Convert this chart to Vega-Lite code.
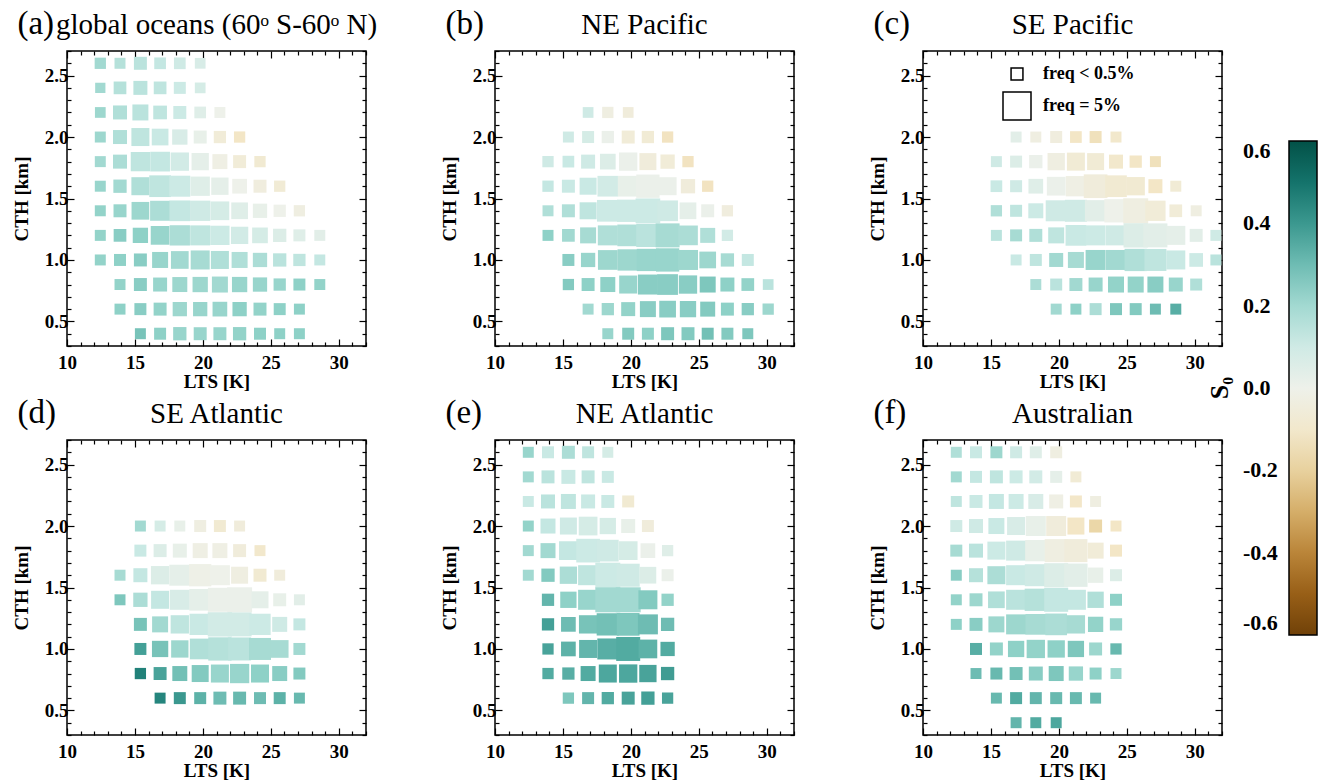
{
"$schema": "https://vega.github.io/schema/vega-lite/v6.json",
"background": "white",
"padding": {"left": 11, "top": 7, "right": 5, "bottom": 5},
"config": {
 "font": "Liberation Serif",
 "view": {"stroke": "black", "strokeWidth": 1.5},
 "header": {"labels": false, "title": null, "labelFontSize": 0, "labelPadding": 0},
 "headerFacet": {"labels": false, "title": null, "labelFontSize": 0, "labelPadding": 0},
 "axis": {"domain": false, "grid": false, "tickColor": "black", "tickWidth": 1.2, "labelColor": "black", "titleColor": "black", "labelFont": "Liberation Serif", "titleFont": "Liberation Serif", "labelFontWeight": "bold", "titleFontWeight": "bold", "labelFontSize": 19, "titleFontSize": 19, "labelOverlap": false, "labelFlush": false, "labelBound": false}
},
"data": {"values": [
{"p":"a","lab":"(a)","name":"global oceans (60ᵒ S-60ᵒ N)"},{"p":"b","lab":"(b)","name":"NE Pacific"},{"p":"c","lab":"(c)","name":"SE Pacific"},{"p":"d","lab":"(d)","name":"SE Atlantic"},{"p":"e","lab":"(e)","name":"NE Atlantic"},{"p":"f","lab":"(f)","name":"Australian"},
{"p":"a","x":12.45,"y":2.6,"f":0.2,"s":0.2},{"p":"a","x":13.9,"y":2.6,"f":0.15,"s":0.16},{"p":"a","x":15.4,"y":2.6,"f":0.5,"s":0.15},{"p":"a","x":16.85,"y":2.6,"f":0.27,"s":0.13},{"p":"a","x":18.3,"y":2.6,"f":0.27,"s":0.1},{"p":"a","x":19.8,"y":2.6,"f":0.11,"s":0.07},
{"p":"a","x":12.45,"y":2.4,"f":0.04,"s":0.2},{"p":"a","x":13.9,"y":2.4,"f":0.45,"s":0.16},{"p":"a","x":15.4,"y":2.4,"f":0.7,"s":0.15},{"p":"a","x":16.85,"y":2.4,"f":0.45,"s":0.14},{"p":"a","x":18.3,"y":2.4,"f":0.32,"s":0.11},{"p":"a","x":19.8,"y":2.4,"f":0.11,"s":0.08},
{"p":"a","x":12.45,"y":2.2,"f":0.11,"s":0.21},{"p":"a","x":13.9,"y":2.2,"f":0.7,"s":0.17},{"p":"a","x":15.4,"y":2.2,"f":1.14,"s":0.15},{"p":"a","x":16.85,"y":2.2,"f":0.64,"s":0.14},{"p":"a","x":18.3,"y":2.2,"f":0.5,"s":0.11},{"p":"a","x":19.8,"y":2.2,"f":0.27,"s":0.05},{"p":"a","x":21.25,"y":2.2,"f":0.15,"s":0.0},
{"p":"a","x":12.45,"y":2.0,"f":0.15,"s":0.21},{"p":"a","x":13.9,"y":2.0,"f":0.7,"s":0.17},{"p":"a","x":15.4,"y":2.0,"f":1.64,"s":0.14},{"p":"a","x":16.85,"y":2.0,"f":1.31,"s":0.12},{"p":"a","x":18.3,"y":2.0,"f":0.98,"s":0.07},{"p":"a","x":19.8,"y":2.0,"f":0.5,"s":0.02},{"p":"a","x":21.25,"y":2.0,"f":0.37,"s":-0.06},{"p":"a","x":22.7,"y":2.0,"f":0.2,"s":-0.12},
{"p":"a","x":12.45,"y":1.8,"f":0.15,"s":0.2},{"p":"a","x":13.9,"y":1.8,"f":0.7,"s":0.18},{"p":"a","x":15.4,"y":1.8,"f":1.99,"s":0.14},{"p":"a","x":16.85,"y":1.8,"f":2.11,"s":0.13},{"p":"a","x":18.3,"y":1.8,"f":1.72,"s":0.09},{"p":"a","x":19.8,"y":1.8,"f":1.46,"s":0.03},{"p":"a","x":21.25,"y":1.8,"f":0.91,"s":-0.02},{"p":"a","x":22.7,"y":1.8,"f":0.5,"s":-0.06},{"p":"a","x":24.2,"y":1.8,"f":0.2,"s":-0.08},
{"p":"a","x":12.45,"y":1.6,"f":0.15,"s":0.22},{"p":"a","x":13.9,"y":1.6,"f":0.56,"s":0.2},{"p":"a","x":15.4,"y":1.6,"f":1.64,"s":0.17},{"p":"a","x":16.85,"y":1.6,"f":2.71,"s":0.14},{"p":"a","x":18.3,"y":1.6,"f":2.49,"s":0.11},{"p":"a","x":19.8,"y":1.6,"f":1.99,"s":0.05},{"p":"a","x":21.25,"y":1.6,"f":1.46,"s":0.03},{"p":"a","x":22.7,"y":1.6,"f":0.85,"s":0.0},{"p":"a","x":24.2,"y":1.6,"f":0.5,"s":-0.04},{"p":"a","x":25.65,"y":1.6,"f":0.2,"s":-0.07},
{"p":"a","x":12.45,"y":1.4,"f":0.15,"s":0.23},{"p":"a","x":13.9,"y":1.4,"f":0.5,"s":0.22},{"p":"a","x":15.4,"y":1.4,"f":1.56,"s":0.21},{"p":"a","x":16.85,"y":1.4,"f":2.19,"s":0.18},{"p":"a","x":18.3,"y":1.4,"f":2.4,"s":0.13},{"p":"a","x":19.8,"y":1.4,"f":2.28,"s":0.1},{"p":"a","x":21.25,"y":1.4,"f":1.83,"s":0.08},{"p":"a","x":22.7,"y":1.4,"f":1.31,"s":0.05},{"p":"a","x":24.2,"y":1.4,"f":0.76,"s":0.02},{"p":"a","x":25.65,"y":1.4,"f":0.37,"s":0.0},{"p":"a","x":27.1,"y":1.4,"f":0.2,"s":-0.03},
{"p":"a","x":12.45,"y":1.2,"f":0.15,"s":0.23},{"p":"a","x":13.9,"y":1.2,"f":0.45,"s":0.25},{"p":"a","x":15.4,"y":1.2,"f":0.98,"s":0.24},{"p":"a","x":16.85,"y":1.2,"f":1.83,"s":0.22},{"p":"a","x":18.3,"y":1.2,"f":2.28,"s":0.18},{"p":"a","x":19.8,"y":1.2,"f":2.19,"s":0.14},{"p":"a","x":21.25,"y":1.2,"f":1.99,"s":0.11},{"p":"a","x":22.7,"y":1.2,"f":1.46,"s":0.09},{"p":"a","x":24.2,"y":1.2,"f":1.07,"s":0.08},{"p":"a","x":25.65,"y":1.2,"f":0.56,"s":0.06},{"p":"a","x":27.1,"y":1.2,"f":0.32,"s":0.05},{"p":"a","x":28.6,"y":1.2,"f":0.15,"s":0.04},
{"p":"a","x":12.45,"y":1.0,"f":0.15,"s":0.23},{"p":"a","x":13.9,"y":1.0,"f":0.32,"s":0.24},{"p":"a","x":15.4,"y":1.0,"f":0.5,"s":0.25},{"p":"a","x":16.85,"y":1.0,"f":1.14,"s":0.22},{"p":"a","x":18.3,"y":1.0,"f":1.56,"s":0.2},{"p":"a","x":19.8,"y":1.0,"f":1.91,"s":0.19},{"p":"a","x":21.25,"y":1.0,"f":1.64,"s":0.17},{"p":"a","x":22.7,"y":1.0,"f":1.14,"s":0.17},{"p":"a","x":24.2,"y":1.0,"f":0.76,"s":0.18},{"p":"a","x":25.65,"y":1.0,"f":0.56,"s":0.15},{"p":"a","x":27.1,"y":1.0,"f":0.37,"s":0.14},{"p":"a","x":28.6,"y":1.0,"f":0.15,"s":0.13},
{"p":"a","x":13.9,"y":0.8,"f":0.15,"s":0.23},{"p":"a","x":15.4,"y":0.8,"f":0.5,"s":0.25},{"p":"a","x":16.85,"y":0.8,"f":0.7,"s":0.22},{"p":"a","x":18.3,"y":0.8,"f":0.91,"s":0.21},{"p":"a","x":19.8,"y":0.8,"f":0.98,"s":0.21},{"p":"a","x":21.25,"y":0.8,"f":1.14,"s":0.2},{"p":"a","x":22.7,"y":0.8,"f":0.98,"s":0.22},{"p":"a","x":24.2,"y":0.8,"f":0.76,"s":0.22},{"p":"a","x":25.65,"y":0.8,"f":0.37,"s":0.22},{"p":"a","x":27.1,"y":0.8,"f":0.32,"s":0.24},{"p":"a","x":28.6,"y":0.8,"f":0.15,"s":0.23},
{"p":"a","x":13.9,"y":0.6,"f":0.15,"s":0.24},{"p":"a","x":15.4,"y":0.6,"f":0.32,"s":0.25},{"p":"a","x":16.85,"y":0.6,"f":0.5,"s":0.23},{"p":"a","x":18.3,"y":0.6,"f":0.76,"s":0.21},{"p":"a","x":19.8,"y":0.6,"f":0.76,"s":0.22},{"p":"a","x":21.25,"y":0.6,"f":0.85,"s":0.22},{"p":"a","x":22.7,"y":0.6,"f":0.76,"s":0.24},{"p":"a","x":24.2,"y":0.6,"f":0.5,"s":0.23},{"p":"a","x":25.65,"y":0.6,"f":0.32,"s":0.24},{"p":"a","x":27.1,"y":0.6,"f":0.15,"s":0.24},
{"p":"a","x":15.4,"y":0.4,"f":0.15,"s":0.28},{"p":"a","x":16.85,"y":0.4,"f":0.32,"s":0.24},{"p":"a","x":18.3,"y":0.4,"f":0.56,"s":0.22},{"p":"a","x":19.8,"y":0.4,"f":0.5,"s":0.22},{"p":"a","x":21.25,"y":0.4,"f":0.5,"s":0.22},{"p":"a","x":22.7,"y":0.4,"f":0.56,"s":0.23},{"p":"a","x":24.2,"y":0.4,"f":0.32,"s":0.24},{"p":"a","x":25.65,"y":0.4,"f":0.15,"s":0.24},{"p":"a","x":27.1,"y":0.4,"f":0.15,"s":0.24},
{"p":"b","x":16.85,"y":2.2,"f":0.11,"s":0.1},{"p":"b","x":18.3,"y":2.2,"f":0.2,"s":-0.03},{"p":"b","x":19.8,"y":2.2,"f":0.11,"s":-0.05},
{"p":"b","x":15.4,"y":2.0,"f":0.15,"s":0.1},{"p":"b","x":16.85,"y":2.0,"f":0.32,"s":0.08},{"p":"b","x":18.3,"y":2.0,"f":0.37,"s":0.01},{"p":"b","x":19.8,"y":2.0,"f":0.5,"s":-0.06},{"p":"b","x":21.25,"y":2.0,"f":0.37,"s":-0.07},{"p":"b","x":22.7,"y":2.0,"f":0.2,"s":-0.13},
{"p":"b","x":13.9,"y":1.8,"f":0.2,"s":0.1},{"p":"b","x":15.4,"y":1.8,"f":0.27,"s":0.12},{"p":"b","x":16.85,"y":1.8,"f":0.7,"s":0.1},{"p":"b","x":18.3,"y":1.8,"f":1.07,"s":0.06},{"p":"b","x":19.8,"y":1.8,"f":1.72,"s":0.01},{"p":"b","x":21.25,"y":1.8,"f":1.38,"s":-0.05},{"p":"b","x":22.7,"y":1.8,"f":0.76,"s":-0.06},{"p":"b","x":24.2,"y":1.8,"f":0.2,"s":-0.13},
{"p":"b","x":13.9,"y":1.6,"f":0.2,"s":0.13},{"p":"b","x":15.4,"y":1.6,"f":0.5,"s":0.12},{"p":"b","x":16.85,"y":1.6,"f":1.38,"s":0.12},{"p":"b","x":18.3,"y":1.6,"f":2.4,"s":0.09},{"p":"b","x":19.8,"y":1.6,"f":2.4,"s":0.02},{"p":"b","x":21.25,"y":1.6,"f":3.24,"s":0.01},{"p":"b","x":22.7,"y":1.6,"f":1.64,"s":0.01},{"p":"b","x":24.2,"y":1.6,"f":0.76,"s":-0.05},{"p":"b","x":25.65,"y":1.6,"f":0.2,"s":-0.13},
{"p":"b","x":13.9,"y":1.4,"f":0.15,"s":0.17},{"p":"b","x":15.4,"y":1.4,"f":0.5,"s":0.17},{"p":"b","x":16.85,"y":1.4,"f":1.38,"s":0.14},{"p":"b","x":18.3,"y":1.4,"f":2.71,"s":0.11},{"p":"b","x":19.8,"y":1.4,"f":2.9,"s":0.11},{"p":"b","x":21.25,"y":1.4,"f":3.73,"s":0.11},{"p":"b","x":22.7,"y":1.4,"f":2.4,"s":0.1},{"p":"b","x":24.2,"y":1.4,"f":1.31,"s":0.03},{"p":"b","x":25.65,"y":1.4,"f":0.5,"s":0.01},{"p":"b","x":27.1,"y":1.4,"f":0.2,"s":-0.04},
{"p":"b","x":13.9,"y":1.2,"f":0.15,"s":0.24},{"p":"b","x":15.4,"y":1.2,"f":0.45,"s":0.2},{"p":"b","x":16.85,"y":1.2,"f":1.14,"s":0.19},{"p":"b","x":18.3,"y":1.2,"f":2.19,"s":0.17},{"p":"b","x":19.8,"y":1.2,"f":2.71,"s":0.17},{"p":"b","x":21.25,"y":1.2,"f":3.24,"s":0.15},{"p":"b","x":22.7,"y":1.2,"f":3.48,"s":0.19},{"p":"b","x":24.2,"y":1.2,"f":2.11,"s":0.18},{"p":"b","x":25.65,"y":1.2,"f":0.91,"s":0.17},{"p":"b","x":27.1,"y":1.2,"f":0.2,"s":0.09},
{"p":"b","x":15.4,"y":1.0,"f":0.32,"s":0.25},{"p":"b","x":16.85,"y":1.0,"f":0.76,"s":0.22},{"p":"b","x":18.3,"y":1.0,"f":2.11,"s":0.21},{"p":"b","x":19.8,"y":1.0,"f":2.59,"s":0.21},{"p":"b","x":21.25,"y":1.0,"f":2.9,"s":0.22},{"p":"b","x":22.7,"y":1.0,"f":3.24,"s":0.22},{"p":"b","x":24.2,"y":1.0,"f":2.19,"s":0.21},{"p":"b","x":25.65,"y":1.0,"f":1.31,"s":0.21},{"p":"b","x":27.1,"y":1.0,"f":0.56,"s":0.19},{"p":"b","x":28.6,"y":1.0,"f":0.32,"s":0.13},
{"p":"b","x":15.4,"y":0.8,"f":0.2,"s":0.26},{"p":"b","x":16.85,"y":0.8,"f":0.5,"s":0.24},{"p":"b","x":18.3,"y":0.8,"f":0.91,"s":0.24},{"p":"b","x":19.8,"y":0.8,"f":1.64,"s":0.22},{"p":"b","x":21.25,"y":0.8,"f":2.19,"s":0.25},{"p":"b","x":22.7,"y":0.8,"f":2.4,"s":0.25},{"p":"b","x":24.2,"y":0.8,"f":1.72,"s":0.25},{"p":"b","x":25.65,"y":0.8,"f":1.14,"s":0.27},{"p":"b","x":27.1,"y":0.8,"f":0.7,"s":0.24},{"p":"b","x":28.6,"y":0.8,"f":0.45,"s":0.23},{"p":"b","x":30.1,"y":0.8,"f":0.11,"s":0.15},
{"p":"b","x":16.85,"y":0.6,"f":0.15,"s":0.2},{"p":"b","x":18.3,"y":0.6,"f":0.37,"s":0.21},{"p":"b","x":19.8,"y":0.6,"f":0.7,"s":0.23},{"p":"b","x":21.25,"y":0.6,"f":1.14,"s":0.25},{"p":"b","x":22.7,"y":0.6,"f":1.31,"s":0.25},{"p":"b","x":24.2,"y":0.6,"f":1.21,"s":0.25},{"p":"b","x":25.65,"y":0.6,"f":0.91,"s":0.26},{"p":"b","x":27.1,"y":0.6,"f":0.5,"s":0.24},{"p":"b","x":28.6,"y":0.6,"f":0.37,"s":0.25},{"p":"b","x":30.1,"y":0.6,"f":0.2,"s":0.21},
{"p":"b","x":18.3,"y":0.4,"f":0.15,"s":0.22},{"p":"b","x":19.8,"y":0.4,"f":0.32,"s":0.26},{"p":"b","x":21.25,"y":0.4,"f":0.32,"s":0.24},{"p":"b","x":22.7,"y":0.4,"f":0.5,"s":0.27},{"p":"b","x":24.2,"y":0.4,"f":0.5,"s":0.26},{"p":"b","x":25.65,"y":0.4,"f":0.32,"s":0.29},{"p":"b","x":27.1,"y":0.4,"f":0.32,"s":0.26},{"p":"b","x":28.6,"y":0.4,"f":0.15,"s":0.27},
{"p":"c","x":16.85,"y":2.0,"f":0.15,"s":0.04},{"p":"c","x":18.3,"y":2.0,"f":0.15,"s":-0.03},{"p":"c","x":19.8,"y":2.0,"f":0.32,"s":-0.04},{"p":"c","x":21.25,"y":2.0,"f":0.27,"s":-0.12},{"p":"c","x":22.7,"y":2.0,"f":0.32,"s":-0.14},{"p":"c","x":24.2,"y":2.0,"f":0.15,"s":-0.1},
{"p":"c","x":15.4,"y":1.8,"f":0.15,"s":0.1},{"p":"c","x":16.85,"y":1.8,"f":0.32,"s":0.06},{"p":"c","x":18.3,"y":1.8,"f":0.56,"s":0.01},{"p":"c","x":19.8,"y":1.8,"f":1.46,"s":-0.03},{"p":"c","x":21.25,"y":1.8,"f":1.64,"s":-0.07},{"p":"c","x":22.7,"y":1.8,"f":1.38,"s":-0.07},{"p":"c","x":24.2,"y":1.8,"f":0.7,"s":-0.1},{"p":"c","x":25.65,"y":1.8,"f":0.37,"s":-0.12},{"p":"c","x":27.1,"y":1.8,"f":0.15,"s":-0.14},
{"p":"c","x":15.4,"y":1.6,"f":0.27,"s":0.12},{"p":"c","x":16.85,"y":1.6,"f":0.32,"s":0.1},{"p":"c","x":18.3,"y":1.6,"f":0.85,"s":0.05},{"p":"c","x":19.8,"y":1.6,"f":1.83,"s":0.01},{"p":"c","x":21.25,"y":1.6,"f":2.28,"s":-0.02},{"p":"c","x":22.7,"y":1.6,"f":3.37,"s":-0.05},{"p":"c","x":24.2,"y":1.6,"f":2.71,"s":-0.08},{"p":"c","x":25.65,"y":1.6,"f":1.72,"s":-0.08},{"p":"c","x":27.1,"y":1.6,"f":0.7,"s":-0.12},{"p":"c","x":28.6,"y":1.6,"f":0.15,"s":-0.07},
{"p":"c","x":15.4,"y":1.4,"f":0.2,"s":0.17},{"p":"c","x":16.85,"y":1.4,"f":0.32,"s":0.14},{"p":"c","x":18.3,"y":1.4,"f":0.91,"s":0.11},{"p":"c","x":19.8,"y":1.4,"f":2.49,"s":0.1},{"p":"c","x":21.25,"y":1.4,"f":2.81,"s":0.1},{"p":"c","x":22.7,"y":1.4,"f":2.59,"s":0.04},{"p":"c","x":24.2,"y":1.4,"f":3.24,"s":0.0},{"p":"c","x":25.65,"y":1.4,"f":3.84,"s":-0.03},{"p":"c","x":27.1,"y":1.4,"f":2.28,"s":-0.06},{"p":"c","x":28.6,"y":1.4,"f":0.45,"s":-0.06},{"p":"c","x":30.1,"y":1.4,"f":0.15,"s":-0.03},
{"p":"c","x":15.4,"y":1.2,"f":0.15,"s":0.15},{"p":"c","x":16.85,"y":1.2,"f":0.32,"s":0.19},{"p":"c","x":18.3,"y":1.2,"f":0.5,"s":0.17},{"p":"c","x":19.8,"y":1.2,"f":1.14,"s":0.14},{"p":"c","x":21.25,"y":1.2,"f":2.4,"s":0.12},{"p":"c","x":22.7,"y":1.2,"f":2.19,"s":0.11},{"p":"c","x":24.2,"y":1.2,"f":2.19,"s":0.1},{"p":"c","x":25.65,"y":1.2,"f":3.59,"s":0.06},{"p":"c","x":27.1,"y":1.2,"f":3.48,"s":0.04},{"p":"c","x":28.6,"y":1.2,"f":1.91,"s":0.03},{"p":"c","x":30.1,"y":1.2,"f":0.5,"s":0.04},{"p":"c","x":31.55,"y":1.2,"f":0.15,"s":0.1},
{"p":"c","x":16.85,"y":1.0,"f":0.15,"s":0.12},{"p":"c","x":18.3,"y":1.0,"f":0.32,"s":0.14},{"p":"c","x":19.8,"y":1.0,"f":0.7,"s":0.2},{"p":"c","x":21.25,"y":1.0,"f":1.14,"s":0.19},{"p":"c","x":22.7,"y":1.0,"f":2.19,"s":0.22},{"p":"c","x":24.2,"y":1.0,"f":2.19,"s":0.2},{"p":"c","x":25.65,"y":1.0,"f":2.9,"s":0.17},{"p":"c","x":27.1,"y":1.0,"f":2.81,"s":0.14},{"p":"c","x":28.6,"y":1.0,"f":1.91,"s":0.12},{"p":"c","x":30.1,"y":1.0,"f":0.64,"s":0.11},{"p":"c","x":31.55,"y":1.0,"f":0.15,"s":0.15},
{"p":"c","x":18.3,"y":0.8,"f":0.15,"s":0.18},{"p":"c","x":19.8,"y":0.8,"f":0.32,"s":0.15},{"p":"c","x":21.25,"y":0.8,"f":0.5,"s":0.2},{"p":"c","x":22.7,"y":0.8,"f":0.7,"s":0.22},{"p":"c","x":24.2,"y":0.8,"f":1.14,"s":0.23},{"p":"c","x":25.65,"y":0.8,"f":1.14,"s":0.23},{"p":"c","x":27.1,"y":0.8,"f":1.14,"s":0.25},{"p":"c","x":28.6,"y":0.8,"f":0.7,"s":0.22},{"p":"c","x":30.1,"y":0.8,"f":0.32,"s":0.17},
{"p":"c","x":19.8,"y":0.6,"f":0.15,"s":0.2},{"p":"c","x":21.25,"y":0.6,"f":0.15,"s":0.24},{"p":"c","x":22.7,"y":0.6,"f":0.32,"s":0.18},{"p":"c","x":24.2,"y":0.6,"f":0.32,"s":0.27},{"p":"c","x":25.65,"y":0.6,"f":0.32,"s":0.26},{"p":"c","x":27.1,"y":0.6,"f":0.15,"s":0.3},{"p":"c","x":28.6,"y":0.6,"f":0.15,"s":0.34},
{"p":"d","x":15.4,"y":2.0,"f":0.15,"s":0.2},{"p":"d","x":16.85,"y":2.0,"f":0.15,"s":0.08},{"p":"d","x":18.3,"y":2.0,"f":0.15,"s":0.02},{"p":"d","x":19.8,"y":2.0,"f":0.32,"s":-0.03},{"p":"d","x":21.25,"y":2.0,"f":0.32,"s":-0.08},{"p":"d","x":22.7,"y":2.0,"f":0.15,"s":-0.05},
{"p":"d","x":15.4,"y":1.8,"f":0.32,"s":0.12},{"p":"d","x":16.85,"y":1.8,"f":0.5,"s":0.06},{"p":"d","x":18.3,"y":1.8,"f":0.7,"s":0.02},{"p":"d","x":19.8,"y":1.8,"f":0.91,"s":-0.02},{"p":"d","x":21.25,"y":1.8,"f":0.91,"s":-0.02},{"p":"d","x":22.7,"y":1.8,"f":0.5,"s":-0.05},{"p":"d","x":24.2,"y":1.8,"f":0.15,"s":-0.1},
{"p":"d","x":13.9,"y":1.6,"f":0.15,"s":0.19},{"p":"d","x":15.4,"y":1.6,"f":0.7,"s":0.13},{"p":"d","x":16.85,"y":1.6,"f":1.72,"s":0.06},{"p":"d","x":18.3,"y":1.6,"f":2.49,"s":0.03},{"p":"d","x":19.8,"y":1.6,"f":2.9,"s":-0.01},{"p":"d","x":21.25,"y":1.6,"f":2.19,"s":0.0},{"p":"d","x":22.7,"y":1.6,"f":1.38,"s":-0.03},{"p":"d","x":24.2,"y":1.6,"f":0.5,"s":-0.08},{"p":"d","x":25.65,"y":1.6,"f":0.15,"s":-0.05},
{"p":"d","x":13.9,"y":1.4,"f":0.15,"s":0.27},{"p":"d","x":15.4,"y":1.4,"f":0.76,"s":0.18},{"p":"d","x":16.85,"y":1.4,"f":1.64,"s":0.13},{"p":"d","x":18.3,"y":1.4,"f":2.19,"s":0.07},{"p":"d","x":19.8,"y":1.4,"f":2.71,"s":0.03},{"p":"d","x":21.25,"y":1.4,"f":3.48,"s":0.01},{"p":"d","x":22.7,"y":1.4,"f":3.84,"s":0.01},{"p":"d","x":24.2,"y":1.4,"f":1.38,"s":0.03},{"p":"d","x":25.65,"y":1.4,"f":0.5,"s":0.02},{"p":"d","x":27.1,"y":1.4,"f":0.15,"s":0.04},
{"p":"d","x":15.4,"y":1.2,"f":0.5,"s":0.28},{"p":"d","x":16.85,"y":1.2,"f":1.14,"s":0.2},{"p":"d","x":18.3,"y":1.2,"f":1.72,"s":0.14},{"p":"d","x":19.8,"y":1.2,"f":2.59,"s":0.12},{"p":"d","x":21.25,"y":1.2,"f":3.59,"s":0.09},{"p":"d","x":22.7,"y":1.2,"f":3.48,"s":0.09},{"p":"d","x":24.2,"y":1.2,"f":2.59,"s":0.11},{"p":"d","x":25.65,"y":1.2,"f":0.91,"s":0.1},{"p":"d","x":27.1,"y":1.2,"f":0.32,"s":0.13},
{"p":"d","x":15.4,"y":1.0,"f":0.32,"s":0.38},{"p":"d","x":16.85,"y":1.0,"f":1.21,"s":0.28},{"p":"d","x":18.3,"y":1.0,"f":1.46,"s":0.21},{"p":"d","x":19.8,"y":1.0,"f":2.4,"s":0.17},{"p":"d","x":21.25,"y":1.0,"f":3.24,"s":0.16},{"p":"d","x":22.7,"y":1.0,"f":3.14,"s":0.15},{"p":"d","x":24.2,"y":1.0,"f":2.81,"s":0.19},{"p":"d","x":25.65,"y":1.0,"f":1.56,"s":0.19},{"p":"d","x":27.1,"y":1.0,"f":0.32,"s":0.2},
{"p":"d","x":15.4,"y":0.8,"f":0.2,"s":0.46},{"p":"d","x":16.85,"y":0.8,"f":0.5,"s":0.37},{"p":"d","x":18.3,"y":0.8,"f":0.91,"s":0.29},{"p":"d","x":19.8,"y":0.8,"f":1.38,"s":0.26},{"p":"d","x":21.25,"y":0.8,"f":1.64,"s":0.22},{"p":"d","x":22.7,"y":0.8,"f":1.99,"s":0.22},{"p":"d","x":24.2,"y":0.8,"f":1.64,"s":0.24},{"p":"d","x":25.65,"y":0.8,"f":0.91,"s":0.25},{"p":"d","x":27.1,"y":0.8,"f":0.32,"s":0.26},
{"p":"d","x":16.85,"y":0.6,"f":0.15,"s":0.45},{"p":"d","x":18.3,"y":0.6,"f":0.32,"s":0.4},{"p":"d","x":19.8,"y":0.6,"f":0.32,"s":0.33},{"p":"d","x":21.25,"y":0.6,"f":0.5,"s":0.3},{"p":"d","x":22.7,"y":0.6,"f":0.5,"s":0.31},{"p":"d","x":24.2,"y":0.6,"f":0.32,"s":0.3},{"p":"d","x":25.65,"y":0.6,"f":0.32,"s":0.33},{"p":"d","x":27.1,"y":0.6,"f":0.15,"s":0.31},
{"p":"e","x":12.45,"y":2.6,"f":0.15,"s":0.22},{"p":"e","x":13.9,"y":2.6,"f":0.32,"s":0.12},{"p":"e","x":15.4,"y":2.6,"f":0.5,"s":0.18},{"p":"e","x":16.85,"y":2.6,"f":0.32,"s":0.14},{"p":"e","x":18.3,"y":2.6,"f":0.15,"s":0.08},
{"p":"e","x":12.45,"y":2.4,"f":0.15,"s":0.2},{"p":"e","x":13.9,"y":2.4,"f":0.5,"s":0.15},{"p":"e","x":15.4,"y":2.4,"f":0.7,"s":0.12},{"p":"e","x":16.85,"y":2.4,"f":0.5,"s":0.14},{"p":"e","x":18.3,"y":2.4,"f":0.32,"s":0.12},
{"p":"e","x":12.45,"y":2.2,"f":0.15,"s":0.12},{"p":"e","x":13.9,"y":2.2,"f":0.7,"s":0.15},{"p":"e","x":15.4,"y":2.2,"f":0.91,"s":0.14},{"p":"e","x":16.85,"y":2.2,"f":0.7,"s":0.12},{"p":"e","x":18.3,"y":2.2,"f":0.5,"s":0.12},{"p":"e","x":19.8,"y":2.2,"f":0.32,"s":-0.08},
{"p":"e","x":12.45,"y":2.0,"f":0.15,"s":0.23},{"p":"e","x":13.9,"y":2.0,"f":0.91,"s":0.13},{"p":"e","x":15.4,"y":2.0,"f":1.38,"s":0.1},{"p":"e","x":16.85,"y":2.0,"f":1.83,"s":0.08},{"p":"e","x":18.3,"y":2.0,"f":1.21,"s":0.08},{"p":"e","x":19.8,"y":2.0,"f":0.7,"s":0.02},{"p":"e","x":21.25,"y":2.0,"f":0.32,"s":-0.05},
{"p":"e","x":12.45,"y":1.8,"f":0.15,"s":0.2},{"p":"e","x":13.9,"y":1.8,"f":0.91,"s":0.2},{"p":"e","x":15.4,"y":1.8,"f":1.83,"s":0.13},{"p":"e","x":16.85,"y":1.8,"f":3.37,"s":0.11},{"p":"e","x":18.3,"y":1.8,"f":2.71,"s":0.1},{"p":"e","x":19.8,"y":1.8,"f":1.83,"s":0.08},{"p":"e","x":21.25,"y":1.8,"f":0.85,"s":0.01},{"p":"e","x":22.7,"y":1.8,"f":0.2,"s":0.05},
{"p":"e","x":12.45,"y":1.6,"f":0.15,"s":0.2},{"p":"e","x":13.9,"y":1.6,"f":0.56,"s":0.26},{"p":"e","x":15.4,"y":1.6,"f":1.46,"s":0.18},{"p":"e","x":16.85,"y":1.6,"f":2.19,"s":0.14},{"p":"e","x":18.3,"y":1.6,"f":3.84,"s":0.11},{"p":"e","x":19.8,"y":1.6,"f":3.14,"s":0.1},{"p":"e","x":21.25,"y":1.6,"f":1.31,"s":0.06},{"p":"e","x":22.7,"y":1.6,"f":0.32,"s":0.01},
{"p":"e","x":13.9,"y":1.4,"f":0.37,"s":0.32},{"p":"e","x":15.4,"y":1.4,"f":1.21,"s":0.24},{"p":"e","x":16.85,"y":1.4,"f":2.19,"s":0.22},{"p":"e","x":18.3,"y":1.4,"f":3.84,"s":0.2},{"p":"e","x":19.8,"y":1.4,"f":3.84,"s":0.2},{"p":"e","x":21.25,"y":1.4,"f":1.91,"s":0.26},{"p":"e","x":22.7,"y":1.4,"f":0.37,"s":0.23},
{"p":"e","x":13.9,"y":1.2,"f":0.37,"s":0.38},{"p":"e","x":15.4,"y":1.2,"f":0.85,"s":0.3},{"p":"e","x":16.85,"y":1.2,"f":1.72,"s":0.28},{"p":"e","x":18.3,"y":1.2,"f":2.9,"s":0.29},{"p":"e","x":19.8,"y":1.2,"f":3.04,"s":0.27},{"p":"e","x":21.25,"y":1.2,"f":2.19,"s":0.3},{"p":"e","x":22.7,"y":1.2,"f":0.56,"s":0.3},
{"p":"e","x":13.9,"y":1.0,"f":0.2,"s":0.37},{"p":"e","x":15.4,"y":1.0,"f":0.85,"s":0.33},{"p":"e","x":16.85,"y":1.0,"f":1.64,"s":0.32},{"p":"e","x":18.3,"y":1.0,"f":2.49,"s":0.34},{"p":"e","x":19.8,"y":1.0,"f":3.48,"s":0.35},{"p":"e","x":21.25,"y":1.0,"f":1.83,"s":0.33},{"p":"e","x":22.7,"y":1.0,"f":0.76,"s":0.35},
{"p":"e","x":13.9,"y":0.8,"f":0.2,"s":0.35},{"p":"e","x":15.4,"y":0.8,"f":0.37,"s":0.34},{"p":"e","x":16.85,"y":0.8,"f":0.91,"s":0.35},{"p":"e","x":18.3,"y":0.8,"f":1.64,"s":0.36},{"p":"e","x":19.8,"y":0.8,"f":1.72,"s":0.36},{"p":"e","x":21.25,"y":0.8,"f":1.46,"s":0.37},{"p":"e","x":22.7,"y":0.8,"f":0.56,"s":0.39},
{"p":"e","x":15.4,"y":0.6,"f":0.2,"s":0.27},{"p":"e","x":16.85,"y":0.6,"f":0.32,"s":0.32},{"p":"e","x":18.3,"y":0.6,"f":0.37,"s":0.35},{"p":"e","x":19.8,"y":0.6,"f":0.5,"s":0.37},{"p":"e","x":21.25,"y":0.6,"f":0.56,"s":0.38},{"p":"e","x":22.7,"y":0.6,"f":0.2,"s":0.37},
{"p":"f","x":12.45,"y":2.6,"f":0.15,"s":0.17},{"p":"f","x":13.9,"y":2.6,"f":0.32,"s":0.12},{"p":"f","x":15.4,"y":2.6,"f":0.32,"s":0.21},{"p":"f","x":16.85,"y":2.6,"f":0.32,"s":0.1},{"p":"f","x":18.3,"y":2.6,"f":0.32,"s":0.05},{"p":"f","x":19.8,"y":2.6,"f":0.32,"s":-0.03},
{"p":"f","x":12.45,"y":2.4,"f":0.15,"s":0.2},{"p":"f","x":13.9,"y":2.4,"f":0.32,"s":0.13},{"p":"f","x":15.4,"y":2.4,"f":0.5,"s":0.14},{"p":"f","x":16.85,"y":2.4,"f":0.5,"s":0.11},{"p":"f","x":18.3,"y":2.4,"f":0.5,"s":0.09},{"p":"f","x":19.8,"y":2.4,"f":0.32,"s":0.03},{"p":"f","x":21.25,"y":2.4,"f":0.15,"s":-0.07},
{"p":"f","x":12.45,"y":2.2,"f":0.15,"s":0.14},{"p":"f","x":13.9,"y":2.2,"f":0.5,"s":0.12},{"p":"f","x":15.4,"y":2.2,"f":0.91,"s":0.13},{"p":"f","x":16.85,"y":2.2,"f":0.91,"s":0.11},{"p":"f","x":18.3,"y":2.2,"f":0.91,"s":0.07},{"p":"f","x":19.8,"y":2.2,"f":0.7,"s":-0.02},{"p":"f","x":21.25,"y":2.2,"f":0.32,"s":-0.11},{"p":"f","x":22.7,"y":2.2,"f":0.15,"s":-0.03},
{"p":"f","x":12.45,"y":2.0,"f":0.32,"s":0.1},{"p":"f","x":13.9,"y":2.0,"f":0.7,"s":0.1},{"p":"f","x":15.4,"y":2.0,"f":1.14,"s":0.12},{"p":"f","x":16.85,"y":2.0,"f":1.64,"s":0.07},{"p":"f","x":18.3,"y":2.0,"f":2.19,"s":0.02},{"p":"f","x":19.8,"y":2.0,"f":2.19,"s":-0.05},{"p":"f","x":21.25,"y":2.0,"f":1.38,"s":-0.12},{"p":"f","x":22.7,"y":2.0,"f":0.5,"s":-0.18},{"p":"f","x":24.2,"y":2.0,"f":0.15,"s":-0.12},
{"p":"f","x":12.45,"y":1.8,"f":0.32,"s":0.19},{"p":"f","x":13.9,"y":1.8,"f":0.7,"s":0.15},{"p":"f","x":15.4,"y":1.8,"f":1.64,"s":0.11},{"p":"f","x":16.85,"y":1.8,"f":2.19,"s":0.1},{"p":"f","x":18.3,"y":1.8,"f":2.59,"s":0.02},{"p":"f","x":19.8,"y":1.8,"f":3.14,"s":-0.03},{"p":"f","x":21.25,"y":1.8,"f":3.14,"s":-0.05},{"p":"f","x":22.7,"y":1.8,"f":1.14,"s":-0.06},{"p":"f","x":24.2,"y":1.8,"f":0.32,"s":-0.12},
{"p":"f","x":12.45,"y":1.6,"f":0.15,"s":0.25},{"p":"f","x":13.9,"y":1.6,"f":0.7,"s":0.16},{"p":"f","x":15.4,"y":1.6,"f":1.64,"s":0.18},{"p":"f","x":16.85,"y":1.6,"f":2.19,"s":0.12},{"p":"f","x":18.3,"y":1.6,"f":2.81,"s":0.1},{"p":"f","x":19.8,"y":1.6,"f":3.48,"s":0.06},{"p":"f","x":21.25,"y":1.6,"f":3.24,"s":0.04},{"p":"f","x":22.7,"y":1.6,"f":0.98,"s":0.02},{"p":"f","x":24.2,"y":1.6,"f":0.32,"s":0.06},
{"p":"f","x":12.45,"y":1.4,"f":0.15,"s":0.23},{"p":"f","x":13.9,"y":1.4,"f":0.5,"s":0.21},{"p":"f","x":15.4,"y":1.4,"f":1.31,"s":0.17},{"p":"f","x":16.85,"y":1.4,"f":2.19,"s":0.15},{"p":"f","x":18.3,"y":1.4,"f":2.9,"s":0.16},{"p":"f","x":19.8,"y":1.4,"f":3.48,"s":0.13},{"p":"f","x":21.25,"y":1.4,"f":2.19,"s":0.13},{"p":"f","x":22.7,"y":1.4,"f":1.21,"s":0.17},{"p":"f","x":24.2,"y":1.4,"f":0.32,"s":0.24},
{"p":"f","x":12.45,"y":1.2,"f":0.15,"s":0.24},{"p":"f","x":13.9,"y":1.2,"f":0.5,"s":0.25},{"p":"f","x":15.4,"y":1.2,"f":1.14,"s":0.21},{"p":"f","x":16.85,"y":1.2,"f":2.19,"s":0.21},{"p":"f","x":18.3,"y":1.2,"f":2.4,"s":0.19},{"p":"f","x":19.8,"y":1.2,"f":2.71,"s":0.18},{"p":"f","x":21.25,"y":1.2,"f":1.72,"s":0.19},{"p":"f","x":22.7,"y":1.2,"f":0.98,"s":0.23},{"p":"f","x":24.2,"y":1.2,"f":0.37,"s":0.22},
{"p":"f","x":13.9,"y":1.0,"f":0.32,"s":0.34},{"p":"f","x":15.4,"y":1.0,"f":0.5,"s":0.23},{"p":"f","x":16.85,"y":1.0,"f":1.21,"s":0.24},{"p":"f","x":18.3,"y":1.0,"f":1.72,"s":0.23},{"p":"f","x":19.8,"y":1.0,"f":1.46,"s":0.24},{"p":"f","x":21.25,"y":1.0,"f":1.21,"s":0.27},{"p":"f","x":22.7,"y":1.0,"f":0.5,"s":0.21},{"p":"f","x":24.2,"y":1.0,"f":0.2,"s":0.31},
{"p":"f","x":13.9,"y":0.8,"f":0.15,"s":0.3},{"p":"f","x":15.4,"y":0.8,"f":0.32,"s":0.31},{"p":"f","x":16.85,"y":0.8,"f":0.5,"s":0.29},{"p":"f","x":18.3,"y":0.8,"f":0.7,"s":0.25},{"p":"f","x":19.8,"y":0.8,"f":0.91,"s":0.27},{"p":"f","x":21.25,"y":0.8,"f":0.76,"s":0.22},{"p":"f","x":22.7,"y":0.8,"f":0.32,"s":0.24},{"p":"f","x":24.2,"y":0.8,"f":0.15,"s":0.21},
{"p":"f","x":15.4,"y":0.6,"f":0.15,"s":0.31},{"p":"f","x":16.85,"y":0.6,"f":0.32,"s":0.35},{"p":"f","x":18.3,"y":0.6,"f":0.32,"s":0.32},{"p":"f","x":19.8,"y":0.6,"f":0.32,"s":0.31},{"p":"f","x":21.25,"y":0.6,"f":0.32,"s":0.31},{"p":"f","x":22.7,"y":0.6,"f":0.15,"s":0.31},
{"p":"f","x":16.85,"y":0.4,"f":0.15,"s":0.32},{"p":"f","x":18.3,"y":0.4,"f":0.15,"s":0.35},{"p":"f","x":19.8,"y":0.4,"f":0.15,"s":0.36}
]},
"columns": 3,
"facet": {"field": "p", "type": "nominal", "header": {"title": null, "labels": false, "labelExpr": "''", "labelFontSize": 0, "labelPadding": 0}},
"spacing": {"row": 4, "column": 61},
"resolve": {"axis": {"x": "independent", "y": "independent"}},
"spec": {
 "width": 299, "height": 295,
 "resolve": {"axis": {"x": "independent", "y": "independent"}},
 "layer": [
  {"transform": [{"filter": "isValid(datum.f)"}],
   "mark": {"type": "square", "opacity": 1},
   "encoding": {
    "x": {"field": "x", "type": "quantitative", "scale": {"domain": [10, 32], "nice": false, "zero": false},
     "axis": {"orient": "bottom", "values": [10,11,12,13,14,15,16,17,18,19,20,21,22,23,24,25,26,27,28,29,30,31,32], "labelExpr": "datum.value % 5 === 0 ? datum.label : ''", "tickSize": {"condition": {"test": "datum.value % 5 === 0", "value": -7}, "value": -4}, "labelPadding": 14, "labelFontSize": 19, "labelFontWeight": "bold", "titleFontSize": 19, "titleFontWeight": "bold", "title": "LTS [K]", "titlePadding": -3}},
    "y": {"field": "y", "type": "quantitative", "scale": {"domain": [0.3, 2.7], "nice": false, "zero": false},
     "axis": {"orient": "left", "values": [0.3,0.4,0.5,0.6,0.7,0.8,0.9,1.0,1.1,1.2,1.3,1.4,1.5,1.6,1.7,1.8,1.9,2.0,2.1,2.2,2.3,2.4,2.5,2.6,2.7], "format": ".1f", "labelExpr": "abs(datum.value*2 - round(datum.value*2)) < 0.001 ? datum.label : ''", "tickSize": {"condition": {"test": "abs(datum.value*2 - round(datum.value*2)) < 0.001", "value": -7}, "value": -4}, "labelPadding": 6, "labelFontSize": 19, "labelFontWeight": "bold", "titleFontSize": 19, "titleFontWeight": "bold", "title": "CTH [km]", "titlePadding": 13}},
    "size": {"field": "f", "type": "quantitative", "scale": {"domain": [0, 5], "range": [100, 784]},
     "legend": {"orient": "none", "legendX": 935, "legendY": 14, "values": [0.3, 5], "title": null, "symbolType": "square", "symbolFillColor": "white", "symbolStrokeColor": "black", "symbolStrokeWidth": 1.5, "symbolOpacity": 1, "labelExpr": "datum.value < 1 ? 'freq < 0.5%' : 'freq = 5%'", "labelFont": "Liberation Serif", "labelFontSize": 18, "labelFontWeight": "bold", "labelColor": "black", "labelOffset": 11, "rowPadding": 6}},
    "color": {"field": "s", "type": "quantitative", "scale": {"scheme": "brownbluegreen", "domain": [-0.6, 0.6]},
     "legend": {"orient": "none", "legendX": 1140, "legendY": 90, "direction": "vertical", "gradientLength": 494, "gradientThickness": 28, "gradientStrokeColor": "black", "gradientStrokeWidth": 1.5, "values": [-0.6, -0.4, -0.2, 0, 0.2, 0.4, 0.6], "labelExpr": "(datum.value < -0.001 ? '-' : '\u2008\u200a') + format(abs(datum.value), '.1f')", "labelOffset": -74, "labelFont": "Liberation Serif", "labelFontSize": 22, "labelFontWeight": "bold", "labelColor": "black", "labelOverlap": false, "title": "S₀", "titleOrient": "left", "titleAnchor": "middle", "titleFont": "Liberation Serif", "titleFontSize": 26, "titleFontWeight": "bold", "titleColor": "black", "titlePadding": 56}}
   }},
  {"transform": [{"filter": "isValid(datum.lab)"}],
   "mark": {"type": "text", "align": "left", "baseline": "alphabetic", "font": "Liberation Serif", "fontSize": 33, "color": "black"},
   "encoding": {
    "x": {"datum": 6.35, "type": "quantitative", "axis": {"orient": "top", "values": [10,11,12,13,14,15,16,17,18,19,20,21,22,23,24,25,26,27,28,29,30,31,32], "labels": false, "title": null, "tickSize": {"condition": {"test": "datum.value % 5 === 0", "value": -7}, "value": -4}}},
    "y": {"datum": 2.84, "type": "quantitative", "axis": {"orient": "right", "values": [0.3,0.4,0.5,0.6,0.7,0.8,0.9,1.0,1.1,1.2,1.3,1.4,1.5,1.6,1.7,1.8,1.9,2.0,2.1,2.2,2.3,2.4,2.5,2.6,2.7], "labels": false, "title": null, "tickSize": {"condition": {"test": "abs(datum.value*2 - round(datum.value*2)) < 0.001", "value": -7}, "value": -4}}},
    "text": {"field": "lab"}
   }},
  {"transform": [{"filter": "isValid(datum.name)"}],
   "mark": {"type": "text", "align": "center", "baseline": "alphabetic", "font": "Liberation Serif", "fontSize": 29, "color": "black"},
   "encoding": {
    "x": {"datum": 21.0, "type": "quantitative", "axis": null},
    "y": {"datum": 2.84, "type": "quantitative", "axis": null},
    "text": {"field": "name"}
   }}
 ]
}
}
